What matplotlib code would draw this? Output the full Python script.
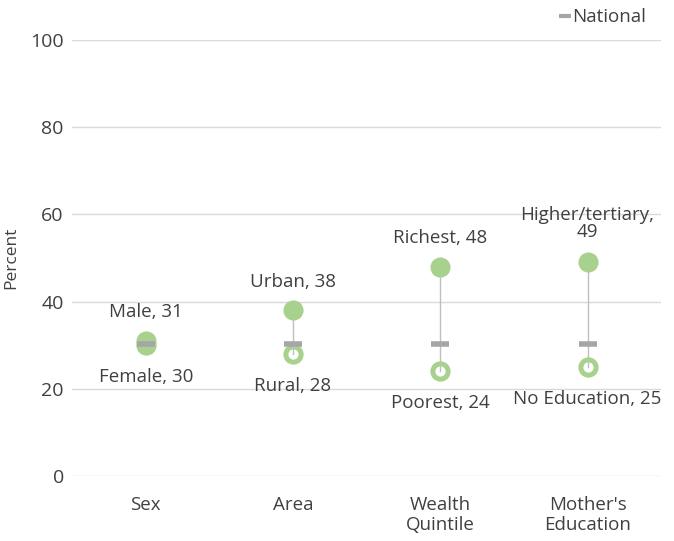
import matplotlib.pyplot as plt
from matplotlib.lines import Line2D

plt.rcParams['font.family'] = ['Open Sans', 'DejaVu Sans']

# groups on the x axis
groups = ["Sex", "Area", "Wealth\nQuintile", "Mother's\nEducation"]
high_labels = ["Male", "Urban", "Richest", "Higher/tertiary,\n"]
high_values = [31, 38, 48, 49]
low_labels = ["Female", "Rural", "Poorest", "No Education"]
low_values = [30, 28, 24, 25]
national = 30.3

green = '#a9d18e'
text_col = '#404040'

fig = plt.figure(figsize=(6.74, 5.41), dpi=100)
ax = fig.add_axes([0.107, 0.120, 0.874, 0.806])

x = range(len(groups))
for i in x:
    hi, lo = high_values[i], low_values[i]
    ax.plot([i, i], [lo, hi], color='#bfbfbf', lw=1, zorder=1)
    ax.plot(i, lo, 'o', ms=11, mfc='none', mec=green, mew=3.6, zorder=3)
    ax.plot(i, hi, 'o', ms=13.5, color=green, zorder=4)
    # national reference dash sits on top of everything
    ax.plot(i, national, marker='_', ms=13, mew=4, color='#a6a6a6', zorder=5)

    if high_labels[i].endswith('\n'):
        ax.annotate(high_labels[i] + str(hi), (i, hi), xytext=(0, 28),
                    textcoords='offset points', ha='center', va='center',
                    fontsize=13.5, color=text_col, linespacing=0.9)
    else:
        ax.annotate(f"{high_labels[i]}, {hi}", (i, hi), xytext=(0, 20.5),
                    textcoords='offset points', ha='center', va='center',
                    fontsize=13.5, color=text_col)
    ax.annotate(f"{low_labels[i]}, {lo}", (i, lo), xytext=(0, -23),
                textcoords='offset points', ha='center', va='center',
                fontsize=13.5, color=text_col)

ax.set_xlim(-0.5, len(groups) - 0.5)
ax.set_ylim(0, 100)
ax.set_yticks(range(0, 101, 20))
ax.set_xticks(list(x))
ax.set_xticklabels(groups, fontsize=13.5, color=text_col)
ax.tick_params(axis='y', labelsize=14, colors=text_col, length=0, pad=6)
ax.tick_params(axis='x', length=0, pad=14)
ax.set_ylabel('Percent', fontsize=12.5, color=text_col, labelpad=0)
ax.yaxis.set_label_coords(-0.09, 0.5)
ax.grid(axis='y', color='#d9d9d9', lw=1)
ax.set_axisbelow(True)
for s in ax.spines.values():
    s.set_visible(False)

handle = Line2D([], [], color='#a6a6a6', marker='_', ls='none', ms=8, mew=3)
fig.legend([handle], ['National'], loc='center', bbox_to_anchor=(0.895, 0.968),
           frameon=False, fontsize=13.5, handlelength=0.5, handletextpad=0.1,
           labelcolor=text_col)

fig.savefig('out.png', dpi=100)
